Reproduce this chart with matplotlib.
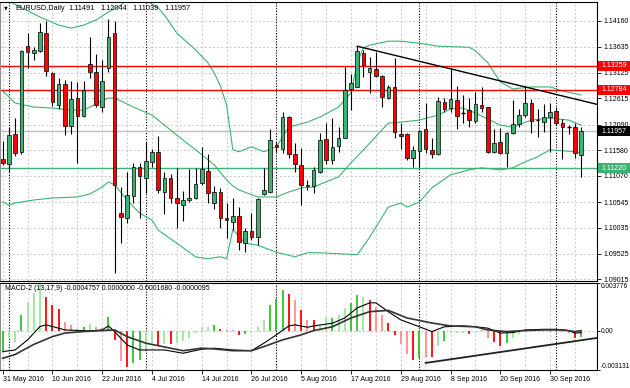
import matplotlib
matplotlib.use("Agg")
import matplotlib.pyplot as plt
import matplotlib.transforms as mtransforms
from matplotlib.patches import Rectangle

W, H = 630, 388

# daily bars, 31 May 2016 .. 7 Oct 2016
opens = [1.1141, 1.1131, 1.1190, 1.1155, 1.1365, 1.1352, 1.1356, 1.1391, 1.1312, 1.1248,
         1.1290, 1.1206, 1.1262, 1.1226, 1.1330, 1.1314, 1.1244, 1.1322, 1.1391, 1.1033,
         1.1023, 1.1067, 1.1125, 1.1103, 1.1135, 1.1155, 1.1075, 1.1103, 1.1063, 1.1049,
         1.1059, 1.1063, 1.1093, 1.1117, 1.1053, 1.1075, 1.1023, 1.1015, 1.1027, 1.0973,
         1.0997, 1.0985, 1.1071, 1.1075, 1.1168, 1.1160, 1.1224, 1.1151, 1.1129, 1.1087,
         1.1087, 1.1115, 1.1180, 1.1139, 1.1166, 1.1182, 1.1280, 1.1284, 1.1352, 1.1314,
         1.1320, 1.1306, 1.1262, 1.1284, 1.1190, 1.1190, 1.1143, 1.1157, 1.1200, 1.1159,
         1.1151, 1.1254, 1.1242, 1.1258, 1.1232, 1.1238, 1.1216, 1.1248, 1.1244, 1.1155,
         1.1174, 1.1153, 1.1192, 1.1210, 1.1228, 1.1252, 1.1217, 1.1214, 1.1224, 1.1236,
         1.1212, 1.1204, 1.1204, 1.11491]
highs = [1.1176, 1.1204, 1.1222, 1.1358, 1.1391, 1.1363, 1.1411, 1.1415, 1.1314, 1.1302,
         1.1298, 1.1296, 1.1294, 1.1296, 1.1383, 1.1350, 1.1338, 1.1419, 1.1415, 1.1085,
         1.1115, 1.1133, 1.1133, 1.1174, 1.1160, 1.1186, 1.1115, 1.1111, 1.1123, 1.1077,
         1.1121, 1.1123, 1.1164, 1.1151, 1.1087, 1.1083, 1.1053, 1.1063, 1.1045, 1.1003,
         1.1033, 1.1063, 1.1123, 1.1200, 1.1174, 1.1234, 1.1226, 1.1172, 1.1162, 1.1099,
         1.1125, 1.1192, 1.1212, 1.1222, 1.1204, 1.1324, 1.1310, 1.1365, 1.1358, 1.1344,
         1.1354, 1.1308, 1.1288, 1.1342, 1.1212, 1.1192, 1.1166, 1.1198, 1.1252, 1.1182,
         1.1264, 1.1262, 1.1322, 1.1286, 1.1268, 1.1262, 1.1274, 1.1284, 1.1245, 1.1200,
         1.1202, 1.1194, 1.1258, 1.1240, 1.1286, 1.1260, 1.1240, 1.1250, 1.1252, 1.1244,
         1.1220, 1.1208, 1.1212, 1.12044]
lows = [1.1129, 1.1115, 1.1147, 1.1151, 1.1322, 1.1338, 1.1354, 1.1306, 1.1246, 1.1240,
        1.1188, 1.1190, 1.1133, 1.1224, 1.1302, 1.1244, 1.1234, 1.1314, 1.0914, 1.0973,
        1.1013, 1.1053, 1.1023, 1.1073, 1.1125, 1.1073, 1.1031, 1.1053, 1.1003, 1.1017,
        1.1055, 1.1061, 1.1089, 1.1053, 1.1041, 1.1003, 1.0983, 1.0999, 1.0960, 1.0956,
        1.0979, 1.0969, 1.1069, 1.1073, 1.1155, 1.1153, 1.1143, 1.1115, 1.1049, 1.1079,
        1.1073, 1.1113, 1.1131, 1.1131, 1.1155, 1.1182, 1.1238, 1.1284, 1.1304, 1.1272,
        1.1304, 1.1244, 1.1260, 1.1182, 1.1160, 1.1139, 1.1125, 1.1125, 1.1153, 1.1143,
        1.1149, 1.1234, 1.1234, 1.1200, 1.1212, 1.1204, 1.1212, 1.1234, 1.1153, 1.1153,
        1.1151, 1.1125, 1.1191, 1.1204, 1.1224, 1.1192, 1.1184, 1.1194, 1.1155, 1.1208,
        1.1141, 1.1190, 1.1143, 1.11039]
closes = [1.1133, 1.1188, 1.1153, 1.1356, 1.1354, 1.1358, 1.1393, 1.1316, 1.1254, 1.1290,
          1.1206, 1.1260, 1.1226, 1.1278, 1.1314, 1.1248, 1.1296, 1.1383, 1.1089, 1.1025,
          1.1069, 1.1125, 1.1107, 1.1137, 1.1155, 1.1079, 1.1103, 1.1063, 1.1053, 1.1059,
          1.1063, 1.1091, 1.1121, 1.1073, 1.1075, 1.1023, 1.1019, 1.1027, 1.0975, 1.0997,
          1.0985, 1.1061, 1.1079, 1.1178, 1.1164, 1.1224, 1.1151, 1.1131, 1.1089, 1.1089,
          1.1119, 1.1178, 1.1139, 1.1164, 1.1182, 1.1278, 1.1292, 1.1356, 1.1328, 1.1322,
          1.1306, 1.1264, 1.1284, 1.1194, 1.1186, 1.1143, 1.1159, 1.1196, 1.1160, 1.1151,
          1.1256, 1.1240, 1.1260, 1.1226, 1.1231, 1.1218, 1.1250, 1.1242, 1.1155, 1.1172,
          1.1153, 1.1192, 1.1210, 1.1228, 1.1252, 1.1216, 1.1218, 1.1224, 1.1234, 1.1212,
          1.1204, 1.1203, 1.1153, 1.11957]

# bollinger bands (bar index, price)
upper_bars = [0, 6, 9, 11, 13, 15, 17, 19, 20, 22, 23, 25, 26, 28, 31, 33, 34, 35, 36, 37,
              38, 40, 42, 44, 45, 46, 49, 51, 54, 56, 57, 58, 59, 62, 64, 67, 70, 75, 76, 78,
              80, 82, 85, 88, 90, 93]
upper_vals = [1.1461, 1.1423, 1.1407, 1.1401, 1.1407, 1.1417, 1.1433, 1.1447, 1.1457, 1.1470,
              1.1457, 1.1441, 1.1427, 1.1391, 1.1358, 1.1332, 1.1312, 1.1286, 1.1248, 1.1159,
              1.1155, 1.1165, 1.1155, 1.1165, 1.1184, 1.1204, 1.1214, 1.1224, 1.1244, 1.1272,
              1.1332, 1.1362, 1.1367, 1.1375, 1.1375, 1.1371, 1.1365, 1.1363, 1.1356, 1.1332,
              1.1294, 1.1280, 1.1284, 1.1284, 1.1276, 1.1268]
mid_bars = [0, 2, 5, 8, 11, 13, 15, 17, 18, 21, 24, 25, 28, 31, 34, 36, 37, 38, 41, 44,
            46, 48, 50, 54, 56, 59, 62, 64, 67, 70, 72, 74, 76, 80, 82, 85, 88, 91, 93]
mid_vals = [1.1276, 1.1252, 1.1244, 1.1242, 1.1238, 1.1238, 1.1250, 1.1262, 1.1262, 1.1244,
            1.1228, 1.1218, 1.1188, 1.1159, 1.1129, 1.1099, 1.1087, 1.1079, 1.1065, 1.1065,
            1.1075, 1.1083, 1.1085, 1.1105, 1.1133, 1.1172, 1.1212, 1.1214, 1.1218, 1.1228,
            1.1240, 1.1242, 1.1232, 1.1208, 1.1204, 1.1218, 1.1222, 1.1218, 1.1208]
low_bars = [0, 1, 2, 5, 8, 12, 14, 16, 17, 18, 20, 22, 24, 25, 28, 31, 33, 35, 36, 37,
            39, 41, 44, 47, 49, 51, 57, 59, 62, 64, 65, 67, 69, 72, 75, 77, 80, 82, 84, 86,
            88, 92, 93]
low_vals = [1.1055, 1.1049, 1.1053, 1.1059, 1.1063, 1.1065, 1.1071, 1.1085, 1.1095, 1.1089,
            1.1059, 1.1033, 1.1019, 1.0999, 1.0973, 1.0946, 1.0942, 1.0946, 1.0942, 1.1000,
            1.0973, 1.0969, 1.0955, 1.0946, 1.0954, 1.0954, 1.0950, 1.0985, 1.1045, 1.1053,
            1.1045, 1.1055, 1.1083, 1.1109, 1.1119, 1.1123, 1.1119, 1.1123, 1.1135, 1.1145,
            1.1159, 1.1155, 1.1153]

red_levels = [1.13259, 1.12784]
green_level = 1.11220
bid = 1.11957
trend_bars = [57, 84]
trend_prices = [1.1365, 1.1284]

# MACD-2 (13,17,9)
hist = [-0.00167, -0.00061, -0.00087, 0.00125, 0.0023, 0.0030, 0.00375, 0.0027, 0.0020, 0.0017,
        0.0007, 0.00045, 0.00016, 0.00026, 0.00053, 0.00026, 0.0002, 0.0011, -0.00074, -0.0024,
        -0.00286, -0.00254, -0.00233, -0.00154, -0.0010, -0.00114, -0.00106, -0.00106, -0.00095, -0.0008,
        -0.0006, -0.0002, 0.00026, 0.0003, 0.00045, 0.0001, 0.00005, 0.00003, -0.00035, -0.0003,
        -0.00016, 0.00026, 0.00085, 0.0020, 0.0025, 0.0032, 0.0029, 0.0024, 0.0016, 0.00085,
        0.00085, 0.00045, 0.0011, 0.0010, 0.00125, 0.0018, 0.0022, 0.0028, 0.0027, 0.0024,
        0.0019, 0.00125, 0.0006, -0.00035, -0.0011, -0.0019, -0.0023, -0.0022, -0.0021, -0.0021,
        -0.0012, -0.0008, -0.0002, -0.00016, -0.00016, -0.00027, -0.00005, 0.00003, -0.0006, -0.0009,
        -0.0012, -0.00095, -0.0006, -0.00027, 0.00003, 0.00003, 0.00002, 0.00003, 0.00003, 0.00002,
        -0.00008, -0.00016, -0.0006, -0.0004757]
hist_kind = ["g", "lg", "lg", "g", "lg", "lg", "lg", "r", "r", "r",
             "lr", "lr", "lg", "g", "lg", "lr", "lr", "g", "r", "lr",
             "r", "g", "g", "lg", "lg", "r", "lg", "r", "lg", "lg",
             "lg", "lg", "lg", "lg", "g", "r", "lr", "lr", "r", "g",
             "lg", "lg", "lg", "g", "g", "g", "r", "lr", "r", "lr",
             "r", "lg", "lg", "g", "lg", "lg", "g", "g", "lg", "r",
             "lr", "lr", "r", "r", "lr", "lr", "r", "g", "lr", "r",
             "lg", "g", "lg", "lg", "lg", "r", "lg", "lr", "lr", "r",
             "r", "g", "lg", "lg", "lg", "lr", "lr", "lg", "lg", "lr",
             "lr", "lr", "r", "g"]
macd_bars = [0, 2, 4, 6, 7, 8, 10, 14, 16, 17, 18, 20, 22, 26, 29, 32, 34, 37, 40, 42,
             44, 46, 47, 49, 50, 53, 55, 57, 59, 60, 62, 64, 67, 69, 71, 74, 76, 78, 80, 82,
             84, 87, 89, 91, 92, 93]
macd_vals = [-0.00167, -0.00154, -0.00074, 0.00032, 0.00045, 0.00032, 0.00005, -0.00003, 0.00005, 0.00037,
             -0.00008, -0.00114, -0.00154, -0.00154, -0.0018, -0.00148, -0.0014, -0.00154, -0.0016, -0.001,
             -0.00034, 0.00037, 0.00045, 0.00026, 0.00037, 0.00058, 0.001, 0.0018, 0.0022, 0.0022,
             0.0015, 0.00085, 0.0003, -0.00008, 0.0003, 0.00037, 0.0003, 0.00019, -0.0002, -0.00016,
             0.00005, 0.0001, 0.0001, 0.0, -0.0002, -0.000168]
signal_bars = [0, 2, 5, 8, 10, 13, 16, 18, 20, 23, 26, 29, 32, 34, 37, 40, 42, 45, 48, 50,
               53, 56, 59, 62, 65, 69, 72, 76, 78, 81, 84, 87, 90, 92, 93]
signal_vals = [-0.0022, -0.0019, -0.0011, -0.00048, -0.0002, -0.00008, 0.0, 0.00005, -0.00048, -0.001,
               -0.0013, -0.0016, -0.0014, -0.00146, -0.0016, -0.0016, -0.00127, -0.00074, -0.00034, 0.0,
               0.0003, 0.001, 0.0015, 0.0016, 0.001, 0.0006, 0.00037, 0.0003, 0.00005, -0.00008,
               0.0, 0.00005, 0.00005, -0.00008, -0.0000095]
macd_trend_bars = [68, 93]
macd_trend_vals = [-0.00257, -0.00077]

price_ticks = [1.14160, 1.13635, 1.13125, 1.12615, 1.12090, 1.11580,
               1.11070, 1.10545, 1.10035, 1.09525, 1.09015]
tick_bars = [0, 8, 16, 24, 32, 40, 48, 56, 64, 72, 80, 88]
tick_labels = ["31 May 2016", "10 Jun 2016", "22 Jun 2016", "4 Jul 2016", "14 Jul 2016",
               "26 Jul 2016", "5 Aug 2016", "17 Aug 2016", "29 Aug 2016", "8 Sep 2016",
               "20 Sep 2016", "30 Sep 2016"]
month_starts = [1, 23, 44, 67, 89]
title_words = ["EURUSD,Daily", "1.11491", "1.12044", "1.11039", "1.11957"]

GREEN = "#3cb371"
FS = 5.0
plt.rcParams["font.family"] = ["Liberation Sans", "DejaVu Sans"]

fig = plt.figure(figsize=(W / 100, H / 100), dpi=100)
fig.patch.set_facecolor("white")
ax = fig.add_axes([0, (H - 281) / H, 597 / W, 279 / H])
mx = fig.add_axes([0, (H - 370) / H, 597 / W, 87 / H])

xlim = (-0.434, 95.55)
for a in (ax, mx):
    a.set_xlim(*xlim)
    for s in a.spines.values():
        s.set_color("black")
        s.set_linewidth(0.8)
    a.spines["left"].set_color("#909090")
    for b in range(0, 94, 4):
        a.axvline(b, color="#c4c4c4", lw=0.6, ls=(0, (2.5, 2.5)), zorder=0)
    for b in month_starts:
        a.axvline(b, color="black", lw=0.8, ls=(0, (1, 1.5)), zorder=1)

ax.set_ylim(1.08978, 1.14530)
for p in price_ticks:
    ax.axhline(p, color="#c4c4c4", lw=0.6, ls=(0, (2.5, 2.5)), zorder=0)

# bands and levels
ax.plot(upper_bars, upper_vals, color=GREEN, lw=0.8, zorder=2)
ax.plot(mid_bars, mid_vals, color=GREEN, lw=0.8, zorder=2)
ax.plot(low_bars, low_vals, color=GREEN, lw=0.8, zorder=2)
ax.axhline(bid, color="#c0c0c0", lw=1.0, zorder=1.5)
for p in red_levels:
    ax.axhline(p, color="#ff0000", lw=1.0, zorder=2)
ax.axhline(green_level, color=GREEN, lw=1.0, zorder=2)

# candles
bw = 0.58
for i in range(len(opens)):
    o, h, l, c = opens[i], highs[i], lows[i], closes[i]
    ax.vlines(i, l, h, color="black", lw=0.8, zorder=3)
    if abs(c - o) < 0.00015:
        ax.hlines((o + c) / 2, i - bw / 2, i + bw / 2, color="black", lw=1.0, zorder=4)
        continue
    fc = GREEN if c > o else "#ff0000"
    ax.add_patch(Rectangle((i - bw / 2, min(o, c)), bw, abs(c - o), facecolor=fc,
                           edgecolor="black", lw=0.5, zorder=4))

# trend line (ray to the right)
slope = (trend_prices[1] - trend_prices[0]) / (trend_bars[1] - trend_bars[0])
ax.plot([trend_bars[0], xlim[1]], [trend_prices[0], trend_prices[0] + slope * (xlim[1] - trend_bars[0])],
        color="black", lw=1.0, zorder=5)

ax.set_xticks([])
ax.yaxis.tick_right()
ax.set_yticks(price_ticks)
ax.set_yticklabels([f"{p:.5f}" for p in price_ticks])
ax.tick_params(axis="y", length=3, width=0.6, labelsize=FS, pad=1.5)

# coloured price boxes on the right scale
box_tr = mtransforms.blended_transform_factory(fig.transFigure, ax.transData)
px = (1.14530 - 1.08978) / 279
for p, col in [(red_levels[0], "#ff0000"), (red_levels[1], "#ff0000"),
               (bid, "black"), (green_level, GREEN)]:
    ax.add_patch(Rectangle((598 / W, p - 5 * px), 32 / W, 10 * px, transform=box_tr,
                           facecolor=col, edgecolor="none", clip_on=False, zorder=10))
    ax.text(614 / W, p, f"{p:.5f}", transform=box_tr, color="white", fontsize=FS,
            ha="center", va="center", clip_on=False, zorder=11)

# MACD panel
mx.set_ylim(-0.003131, 0.003776)
mx.axhline(0, color="#c4c4c4", lw=0.6, ls=(0, (2.5, 2.5)), zorder=0)
colors = {"g": "#2fc22f", "lg": "#9be89b", "r": "#ff0000", "lr": "#ff8c8c"}
for i, v in enumerate(hist):
    mx.vlines(i, 0, v, color=colors[hist_kind[i]], lw=1.3, zorder=2)
mx.plot(macd_bars, macd_vals, color="black", lw=0.8, zorder=3)
mx.plot(signal_bars, signal_vals, color="#333333", lw=1.2, zorder=3)
ms = (macd_trend_vals[1] - macd_trend_vals[0]) / (macd_trend_bars[1] - macd_trend_bars[0])
mx.plot([macd_trend_bars[0], xlim[1]],
        [macd_trend_vals[0], macd_trend_vals[0] + ms * (xlim[1] - macd_trend_bars[0])],
        color="#222222", lw=1.3, zorder=4)

mx.yaxis.tick_right()
mx.set_yticks([0.003776, 0.0, -0.003131])
mx.set_yticklabels(["0.003776", "0.00", "-0.003131"])
mx.tick_params(axis="y", length=2, width=0.6, labelsize=4.7, pad=1.0)
tl = mx.get_yticklabels()
tl[0].set_va("top")
tl[2].set_va("bottom")
mx.set_xticks(tick_bars)
mx.set_xticklabels(tick_labels, ha="left")
mx.tick_params(axis="x", length=3, width=0.6, labelsize=FS, pad=1.5)

fig.text(4 / W, 1 - 8 / H, "\u25bc", fontsize=3.5, va="center", family="DejaVu Sans")
for word, xpix in zip(title_words, [15, 68, 100, 132, 164]):
    fig.text(xpix / W, 1 - 8 / H, word, fontsize=5.3, va="center")
fig.text(5 / W, 1 - 288 / H, "MACD-2 (13,17,9) -0.0004757 0.0000000 -0.0001680 -0.0000095",
         fontsize=FS, va="center")

fig.savefig("out.png", dpi=100, facecolor="white")
